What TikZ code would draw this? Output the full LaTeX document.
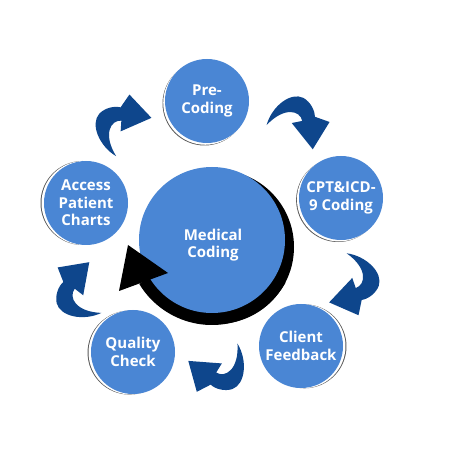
\documentclass[tikz,border=0pt]{standalone}
\usepackage{fontspec}
\setmainfont{Open Sans}
\definecolor{cblue}{RGB}{74,134,212}
\definecolor{dblue}{RGB}{14,70,140}
\tikzset{
  x=1pt, y=1pt,
  bub/.style={circle, fill=cblue, minimum size=#1, inner sep=0pt, text=white,
    font=\fontsize{15}{17.5}\selectfont\bfseries, align=center},
  rim/.style={fill=black!65},
  glint/.style={fill=white},
  cyclearrow/.style={fill=dblue}
}
\newcommand\curvarrow[4]{% name, x, y, rotation
  \coordinate (#1) at (#2,#3);
  \fill[cyclearrow, shift={(#1)}, rotate=#4, scale=1.05]
    (-29,-3) .. controls (-24,15) and (-6,29) .. (6,23)
    .. controls (13,19) and (17,11) .. (17,5) -- (31,0) -- (15,-26) -- (-5,-1) -- (5,1)
    .. controls (3,11) and (-12,15) .. cycle;
}
\newcommand\bubble[6]{% name, x, y, radius, glint angle, text
  \fill[rim, shift={(#2,#3)}] (#5:3.5) circle (#4);
  \fill[glint, shift={(#2,#3)}] (#5:2.5) circle (#4);
  \node[bub=2*#4] (#1) at (#2,#3) {#6};
}
\begin{document}
\begin{tikzpicture}
\useasboundingbox[fill=white] (0,0) rectangle (450,450);
% centre circle with its black circular arrow
\fill[black] (217,203) circle (77);
\draw[black, line width=12] (212,210) ++(-30:79) arc (-30:-149:79);
\node[bub=146] (med) at (212,210) {};
\node[text=white, font=\fontsize{15}{17.5}\selectfont\bfseries, align=center] (medtxt) at (213,205) {Medical\\Coding};
\fill[black] (128,205) -- (119,159) -- (168,177) -- cycle;
% outer steps
\bubble{pre}{207}{349}{42}{225}{Pre-\\Coding}
\bubble{cpt}{341}{252}{42}{215}{CPT\&ICD-\\9 Coding}
\bubble{cli}{301}{104}{42}{-5}{Client\\Feedback}
\bubble{qua}{133}{98}{42}{190}{Quality\\Check}
\bubble{acc}{86}{247}{42}{180}{Access\\Patient\\Charts}
% curved arrows between steps
\curvarrow{a1}{121}{324}{75}
\curvarrow{a2}{297}{328}{0}
\curvarrow{a3}{354}{167}{-82}
\curvarrow{a4}{219}{82}{-133}
\curvarrow{a5}{79}{158}{131}
\end{tikzpicture}
\end{document}
